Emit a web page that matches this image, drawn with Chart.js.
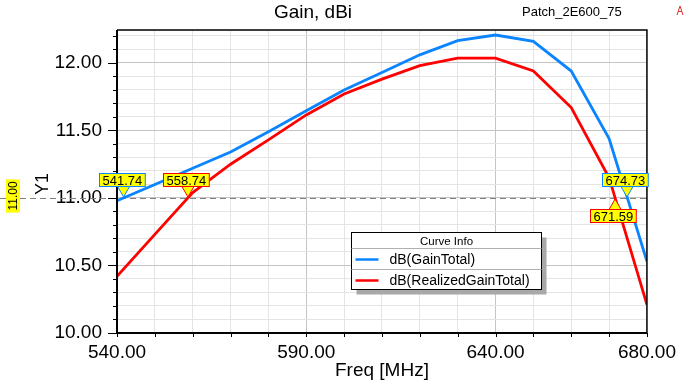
<!DOCTYPE html>
<html>
<head>
<meta charset="utf-8">
<script src="https://cdn.jsdelivr.net/npm/chart.js@4"></script>
<style>
  html, body { margin: 0; padding: 0; background: #fff; }
  #wrap { width: 684px; height: 384px; }
</style>
</head>
<body>
<div id="wrap"><canvas id="gain" width="684" height="384"></canvas></div>
<script>
// values
var freqs = [540, 550, 560, 570, 580, 590, 600, 610, 620, 630, 640, 650, 660, 670, 680];
var gainTotal = [10.98, 11.10, 11.22, 11.34, 11.49, 11.646, 11.80, 11.93, 12.06, 12.165, 12.207, 12.16, 11.94, 11.44, 10.53];
var realizedGain = [10.42, 10.73, 11.04, 11.25, 11.43, 11.615, 11.77, 11.88, 11.98, 12.035, 12.035, 11.94, 11.67, 11.15, 10.21];
var xTickLabels = [540, 590, 640, 680];
var yTickLabels = [10.0, 10.5, 11.0, 11.5, 12.0];
var markerLevel = 11.0;
var markerFreqs = [541.74, 558.74, 674.73, 671.59];
var markerSeries = [0, 1, 0, 1];
var markerBelow = [false, false, false, true];

var FONT = '"Liberation Sans", Arial, sans-serif';
var BLUE = '#0a84ff';
var RED = '#ff0000';

function isMajor(v, step) {
  return Math.abs(v / step - Math.round(v / step)) < 1e-6;
}

var decorPlugin = {
  id: 'decor',
  beforeDatasetsDraw: function(chart) {
    var c = chart.ctx, a = chart.chartArea;
    var y = chart.scales.y.getPixelForValue(markerLevel);
    c.save();
    c.strokeStyle = '#808080';
    c.lineWidth = 1;
    c.setLineDash([6, 4]);
    c.beginPath();
    c.moveTo(0, Math.round(y) + 0.5);
    c.lineTo(a.right, Math.round(y) + 0.5);
    c.stroke();
    c.restore();
  },
  afterDraw: function(chart) {
    var c = chart.ctx, a = chart.chartArea;
    var xs = chart.scales.x, ys = chart.scales.y;
    c.save();
    // frame
    c.strokeStyle = '#000';
    c.lineWidth = 1.5;
    c.beginPath();
    c.moveTo(a.left, a.top); c.lineTo(a.right, a.top); c.lineTo(a.right, a.bottom);
    c.stroke();
    c.lineWidth = 2;
    c.beginPath();
    c.moveTo(a.left, a.top); c.lineTo(a.left, a.bottom); c.lineTo(a.right, a.bottom);
    c.stroke();
    // tick marks
    c.lineWidth = 1;
    ys.ticks.forEach(function(t) {
      var py = Math.round(ys.getPixelForValue(t.value)) + 0.5;
      var len = isMajor(t.value, 0.5) ? 9 : 4;
      c.beginPath(); c.moveTo(a.left - len, py); c.lineTo(a.left, py); c.stroke();
    });
    xs.ticks.forEach(function(t) {
      var px = Math.round(xs.getPixelForValue(t.value)) + 0.5;
      c.beginPath(); c.moveTo(px, a.bottom); c.lineTo(px, a.bottom + 4); c.stroke();
    });

    // titles
    c.fillStyle = '#000';
    c.textBaseline = 'middle';
    c.textAlign = 'center';
    c.font = '19px ' + FONT;
    c.fillText('Gain, dBi', 313, 13);
    c.font = '13px ' + FONT;
    c.textAlign = 'left';
    c.fillText('Patch_2E600_75', 522, 12);
    c.textAlign = 'center';
    c.font = '19px ' + FONT;
    c.fillText('Freq [MHz]', (a.left + a.right) / 2, 371);
    c.save();
    c.translate(43, 184);
    c.rotate(-Math.PI / 2);
    c.font = '18px ' + FONT;
    c.fillText('Y1', 0, 0);
    c.restore();

    // logo
    c.strokeStyle = '#e03030';
    c.lineWidth = 1;
    c.beginPath();
    c.moveTo(677, 15); c.lineTo(680, 6); c.lineTo(683, 15);
    c.moveTo(678.5, 11.5); c.lineTo(681.5, 11.5);
    c.stroke();

    // rotated yellow level tag
    c.save();
    c.translate(13, 196);
    c.rotate(-Math.PI / 2);
    c.font = '12px ' + FONT;
    var tw = c.measureText('11.00').width;
    c.fillStyle = '#ffff00';
    c.fillRect(-tw / 2 - 2, -7, tw + 4, 14);
    c.fillStyle = '#000';
    c.fillText('11.00', 0, 1);
    c.restore();

    // markers
    c.font = '13px ' + FONT;
    markerFreqs.forEach(function(f, i) {
      var col = chart.data.datasets[markerSeries[i]].borderColor;
      var px = xs.getPixelForValue(f);
      var py = ys.getPixelForValue(markerLevel);
      var label = f.toFixed(2);
      var w = c.measureText(label).width + 6, h = 13;
      var bx = Math.round(px - w / 2 - 2) + 0.5;
      var by, tipY, baseY;
      if (markerBelow[i]) {
        by = Math.round(py + 11) + 0.5; tipY = py + 1; baseY = by;
      } else {
        by = Math.round(py - 25) + 0.5; tipY = py - 1; baseY = by + h;
      }
      c.fillStyle = '#ffff00';
      c.strokeStyle = col;
      c.lineWidth = 1;
      c.beginPath();
      c.moveTo(px - 6, baseY); c.lineTo(px, tipY); c.lineTo(px + 6, baseY);
      c.closePath();
      c.fill();
      c.beginPath();
      c.moveTo(px - 6, baseY); c.lineTo(px, tipY); c.lineTo(px + 6, baseY);
      c.stroke();
      c.fillRect(bx, by, w, h);
      c.strokeRect(bx, by, w, h);
      c.fillStyle = '#000';
      c.fillText(label, bx + w / 2, by + h / 2 + 1);
    });

    // curve info box
    var lx = 351.5, ly = 232.5, lw = 190, lh = 57;
    c.fillStyle = '#a8a8a8';
    c.fillRect(lx + 5, ly + 5, lw, lh);
    c.fillStyle = '#fff';
    c.fillRect(lx, ly, lw, lh);
    c.strokeStyle = '#000';
    c.strokeRect(lx, ly, lw, lh);
    c.strokeStyle = '#b0b0b0';
    c.beginPath();
    c.moveTo(lx, ly + 16); c.lineTo(lx + lw, ly + 16);
    c.moveTo(lx, ly + 37); c.lineTo(lx + lw, ly + 37);
    c.stroke();
    c.fillStyle = '#000';
    c.font = '11.5px ' + FONT;
    c.fillText('Curve Info', lx + lw / 2, ly + 9);
    c.font = '14px ' + FONT;
    c.textAlign = 'left';
    chart.data.datasets.forEach(function(ds, i) {
      var ry = ly + 27 + i * 21;
      c.strokeStyle = ds.borderColor;
      c.lineWidth = 2.5;
      c.beginPath(); c.moveTo(lx + 4, ry); c.lineTo(lx + 27, ry); c.stroke();
      c.fillStyle = '#000';
      c.fillText(ds.label, lx + 38, ry + 1);
    });
    c.restore();
  }
};

new Chart(document.getElementById('gain').getContext('2d'), {
  type: 'line',
  data: {
    datasets: [
      {
        label: 'dB(GainTotal)',
        data: freqs.map(function(f, i) { return { x: f, y: gainTotal[i] }; }),
        borderColor: BLUE,
        borderWidth: 2.8,
        pointRadius: 0,
        tension: 0,
        fill: false
      },
      {
        label: 'dB(RealizedGainTotal)',
        data: freqs.map(function(f, i) { return { x: f, y: realizedGain[i] }; }),
        borderColor: RED,
        borderWidth: 2.8,
        pointRadius: 0,
        tension: 0,
        fill: false
      }
    ]
  },
  options: {
    responsive: false,
    animation: false,
    devicePixelRatio: 1,
    layout: { padding: { left: 0, top: 30, right: 36, bottom: 0 } },
    plugins: {
      legend: { display: false },
      title: { display: false },
      tooltip: { enabled: false }
    },
    scales: {
      x: {
        type: 'linear',
        min: 540,
        max: 680,
        afterBuildTicks: function(scale) {
          var t = [];
          for (var v = 540; v <= 680; v += 10) t.push({ value: v });
          scale.ticks = t;
        },
        afterFit: function(scale) { scale.height = 51; },
        border: { display: false },
        grid: {
          drawTicks: false,
          lineWidth: 1,
          color: function(ctx) {
            var v = ctx.tick && ctx.tick.value;
            return (v === 590 || v === 640) ? '#c4c4c4' : '#e4e4e4';
          }
        },
        ticks: {
          autoSkip: false,
          maxRotation: 0,
          padding: 8,
          color: '#000',
          font: { family: FONT, size: 19 },
          callback: function(v) {
            return xTickLabels.indexOf(v) >= 0 ? v.toFixed(2) : '';
          }
        }
      },
      y: {
        type: 'linear',
        min: 10,
        max: 12.244,
        afterBuildTicks: function(scale) {
          var t = [];
          for (var k = 0; k <= 22; k++) t.push({ value: Math.round((10 + k * 0.1) * 10) / 10 });
          scale.ticks = t;
        },
        afterFit: function(scale) { scale.width = 117; },
        border: { display: false },
        grid: {
          drawTicks: false,
          lineWidth: 1,
          color: function(ctx) {
            var v = ctx.tick && ctx.tick.value;
            return isMajor(v, 0.5) ? '#c4c4c4' : '#e4e4e4';
          }
        },
        ticks: {
          autoSkip: false,
          padding: 15,
          color: '#000',
          font: { family: FONT, size: 19 },
          callback: function(v) {
            for (var i = 0; i < yTickLabels.length; i++) {
              if (Math.abs(yTickLabels[i] - v) < 1e-6) return v.toFixed(2);
            }
            return '';
          }
        }
      }
    }
  },
  plugins: [decorPlugin]
});
</script>
</body>
</html>
